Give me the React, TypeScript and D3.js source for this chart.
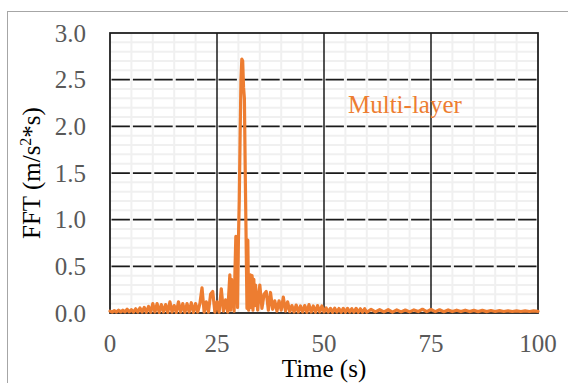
import React from "react";
import * as d3 from "d3";

// Spectrum amplitude sampled in bands of different resolution (start time, step in s)
const lowBandStart = 0;
const lowBandStep = 0.5;
const lowBand = [
  0.02, 0.01, 0.025, 0.01, 0.03, 0.012, 0.03, 0.012, 0.04, 0.012,
  0.035, 0.01, 0.045, 0.01, 0.055, 0.01, 0.06, 0.008, 0.07, 0.008,
  0.1, 0.01, 0.1, 0.006, 0.09, 0.01, 0.09, 0.006, 0.12, 0.01,
  0.08, 0.006, 0.12, 0.01, 0.1, 0.006, 0.1, 0.01, 0.11, 0.006,
  0.1, 0.01, 0.1, 0.27, 0.01, 0.12, 0.01, 0.2, 0.23, 0.01,
  0.12, 0.01, 0.26, 0.02, 0.14, 0.01,
];

const peakBandStart = 28;
const peakBandStep = 0.2;
const peakBand = [
  0.41, 0.03, 0.36, 0.08, 0.28, 0.02, 0.45, 0.82, 0.8, 0.06,
  0.76, 1.2, 1.9, 2.5, 2.72, 2.7, 2.42, 2.3, 1.5, 0.8,
  0.05, 0.78, 0.03, 0.25, 0.41, 0.06, 0.4, 0.03, 0.36, 0.08,
  0.3,
];

const midBandStart = 34.5;
const midBandStep = 0.5;
const midBand = [
  0.03, 0.3, 0.05, 0.2, 0.23, 0.03, 0.22, 0.04, 0.13, 0.02,
  0.13, 0.03, 0.17, 0.02, 0.12, 0.015, 0.08, 0.01, 0.085, 0.01,
  0.075, 0.01, 0.08, 0.008, 0.09, 0.01, 0.075, 0.008, 0.08, 0.01,
  0.075, 0.01, 0.055, 0.01, 0.05, 0.008, 0.052, 0.01, 0.048, 0.008,
  0.05, 0.008, 0.05, 0.01, 0.046, 0.008, 0.05, 0.008, 0.045, 0.008,
  0.046, 0.008,
];

const tailBandStart = 61;
const tailBandStep = 1;
const tailBand = [
  0.038, 0.012, 0.035, 0.012, 0.035, 0.01, 0.033, 0.012, 0.032, 0.012,
  0.033, 0.015, 0.04, 0.015, 0.038, 0.015, 0.035, 0.014, 0.033, 0.015,
  0.03, 0.015, 0.03, 0.015, 0.028, 0.015, 0.028, 0.015, 0.027, 0.016,
  0.025, 0.016, 0.024, 0.016, 0.023, 0.016, 0.022, 0.016, 0.022, 0.018,
];

const xTicks = [0, 25, 50, 75, 100];
const yTicks = [0, 0.5, 1, 1.5, 2, 2.5, 3];
const seriesName = "Multi-layer";

const W = 568;
const H = 383;
const margin = { left: 110, right: 30, top: 33, bottom: 70 };
const FONT = "'Times New Roman', 'Liberation Serif', serif";
const ORANGE = "#ED7D31";

function band(start: number, step: number, values: number[]): [number, number][] {
  return values.map((v, i) => [start + i * step, v]);
}

export default function App() {
  const x = d3.scaleLinear().domain([0, 100]).range([margin.left, W - margin.right]);
  const y = d3.scaleLinear().domain([0, 3]).range([H - margin.bottom, margin.top]);

  const points: [number, number][] = [
    ...band(lowBandStart, lowBandStep, lowBand),
    ...band(peakBandStart, peakBandStep, peakBand),
    ...band(midBandStart, midBandStep, midBand),
    ...band(tailBandStart, tailBandStep, tailBand),
  ];

  const path = d3
    .line<[number, number]>()
    .x((d) => x(d[0]))
    .y((d) => y(d[1]))(points) as string;

  const minorX = x.ticks(20).filter((t) => !xTicks.includes(t));
  const minorY = y.ticks(30).filter((t) => Math.abs(t * 2 - Math.round(t * 2)) > 1e-6);

  const [x0, x1] = x.range();
  const [y1, y0] = y.range();
  const minorStep = x(5) - x(0);
  const gap = 3;

  return (
    <svg
      width={W}
      height={H}
      style={{ position: "fixed", left: 0, top: 0, background: "#fff" }}
    >
      {/* chart frame */}
      <rect x={7.5} y={11.5} width={W + 20} height={H + 20} fill="#fff" stroke="#A6A6A6" strokeWidth={1} />

      {/* minor grid */}
      {minorY.map((t) => (
        <line key={"my" + t} x1={x0} x2={x1} y1={y(t)} y2={y(t)} stroke="#F0F0F0" strokeWidth={2} />
      ))}
      {minorX.map((t) => (
        <line key={"mx" + t} x1={x(t)} x2={x(t)} y1={y0} y2={y1} stroke="#F0F0F0" strokeWidth={2} />
      ))}

      {/* major horizontal grid, dashed */}
      {yTicks.slice(1, -1).map((t) => (
        <line
          key={"gy" + t}
          x1={x0}
          x2={x1}
          y1={y(t)}
          y2={y(t)}
          stroke="#1a1a1a"
          strokeWidth={1.75}
          strokeDasharray={`${minorStep - gap} ${gap}`}
          strokeDashoffset={-gap / 2}
        />
      ))}
      {/* major vertical grid */}
      {xTicks.slice(1, -1).map((t) => (
        <line key={"gx" + t} x1={x(t)} x2={x(t)} y1={y0} y2={y1} stroke="#1a1a1a" strokeWidth={1.5} />
      ))}
      {/* plot border */}
      <rect x={x0} y={y0} width={x1 - x0} height={y1 - y0} fill="none" stroke="#1a1a1a" strokeWidth={1.75} />

      {/* series */}
      <path d={path} fill="none" stroke={ORANGE} strokeWidth={3.2} strokeLinejoin="round" strokeLinecap="round" />

      {/* tick labels */}
      {yTicks.map((t) => (
        <text
          key={"ty" + t}
          x={86}
          y={y(t)}
          dy="0.34em"
          textAnchor="end"
          fontFamily={FONT}
          fontSize={25}
          fill="#595959"
        >
          {t.toFixed(1)}
        </text>
      ))}
      {xTicks.map((t) => (
        <text
          key={"tx" + t}
          x={x(t)}
          y={352}
          textAnchor="middle"
          fontFamily={FONT}
          fontSize={25}
          fill="#595959"
        >
          {t}
        </text>
      ))}

      {/* axis titles */}
      <text x={(x0 + x1) / 2} y={377} textAnchor="middle" fontFamily={FONT} fontSize={25} fill="#000">
        Time (s)
      </text>
      <text
        transform={`translate(40, ${(y0 + y1) / 2}) rotate(-90)`}
        textAnchor="middle"
        fontFamily={FONT}
        fontSize={25}
        fill="#000"
      >
        FFT (m/s
        <tspan fontSize={16} dy={-9}>2</tspan>
        <tspan dy={9}>*s)</tspan>
      </text>

      {/* series label */}
      <text x={348} y={113} fontFamily={FONT} fontSize={25} fill={ORANGE}>
        {seriesName}
      </text>
    </svg>
  );
}
